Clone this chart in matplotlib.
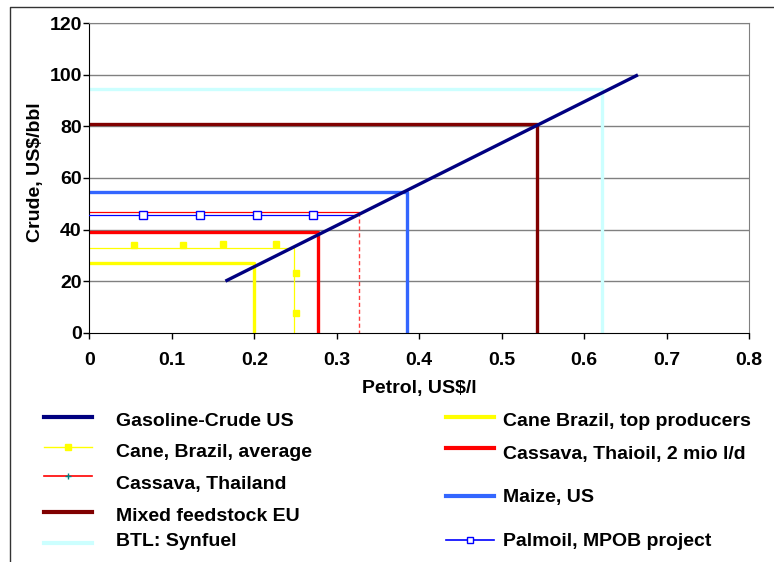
import matplotlib.pyplot as plt
from matplotlib.lines import Line2D

plt.rcParams["font.family"] = ["Liberation Sans", "DejaVu Sans"]
plt.rcParams["font.weight"] = "bold"

# gasoline-crude relation (petrol US$/l vs crude US$/bbl)
gas_x = [0.165, 0.665]
gas_y = [20, 100]

# break-even cost lines: petrol cost and crude equivalent
cane_top_x, cane_top_y = 0.2, 27
cane_avg_x, cane_avg_y = 0.248, 33
cane_avg_mk_x = [0.054, 0.113, 0.162, 0.226]
cane_avg_mk_y = [34, 34, 34.5, 34.5]
cane_avg_vmk_y = [23, 7.5]
cassava_th_x, cassava_th_y = 0.327, 47
cassava_thai_x, cassava_thai_y = 0.2776, 39.2
maize_x, maize_y = 0.3855, 54.7
mixed_x, mixed_y = 0.543, 80.8
btl_x, btl_y = 0.621, 94.4
palm_x, palm_y = 0.322, 45.5
palm_mk_x = [0.0655, 0.134, 0.203, 0.2715]

x_ticks = [0, 0.1, 0.2, 0.3, 0.4, 0.5, 0.6, 0.7, 0.8]
x_labels = ["0", "0.1", "0.2", "0.3", "0.4", "0.5", "0.6", "0.7", "0.8"]
y_ticks = [0, 20, 40, 60, 80, 100, 120]

W, H = 774, 562
fig = plt.figure(figsize=(W / 100, H / 100), dpi=100)
ax = fig.add_axes([89.3 / W, 1 - 332.7 / H, 660 / W, 309.4 / H])

ax.set_xlim(0, 0.8)
ax.set_ylim(0, 120)
for yv in y_ticks[1:]:
    ax.axhline(yv, color="#808080", lw=1, zorder=0)

thick = 2.4
# BTL
ax.plot([0, btl_x, btl_x], [btl_y, btl_y, 0], color="#CCFFFF", lw=thick, zorder=2)
# mixed feedstock
ax.plot([0, mixed_x, mixed_x], [mixed_y, mixed_y, 0], color="#800000", lw=thick, zorder=2)
# maize
ax.plot([0, maize_x, maize_x], [maize_y, maize_y, 0], color="#3366FF", lw=thick, zorder=2)
# cassava Thailand (thin + dashed drop)
ax.plot([0, cassava_th_x], [cassava_th_y, cassava_th_y], color="#FF0000", lw=0.9, zorder=2)
ax.plot([cassava_th_x, cassava_th_x], [cassava_th_y, 0], color="#FF4040", lw=1,
        ls=(0, (3, 2)), zorder=2)
# palmoil
ax.plot([0, palm_x], [palm_y, palm_y], color="#0000FF", lw=0.9, zorder=3)
ax.plot(palm_mk_x, [palm_y] * len(palm_mk_x), ls="none", marker="s", ms=5.5,
        mfc="white", mec="#0000FF", mew=1, zorder=4)
# cassava Thaioil
ax.plot([0, cassava_thai_x, cassava_thai_x], [cassava_thai_y, cassava_thai_y, 0],
        color="#FF0000", lw=thick, zorder=2)
# cane average
ax.plot([0, cane_avg_x, cane_avg_x], [cane_avg_y, cane_avg_y, 0], color="#FFFF00", lw=0.9, zorder=2)
ax.plot(cane_avg_mk_x, cane_avg_mk_y, ls="none", marker="s", ms=4, color="#FFFF00", zorder=3)
ax.plot([cane_avg_x + 0.002] * 2, cane_avg_vmk_y, ls="none", marker="s", ms=4,
        color="#FFFF00", zorder=3)
# cane top producers
ax.plot([0, cane_top_x, cane_top_x], [cane_top_y, cane_top_y, 0], color="#FFFF00", lw=thick, zorder=2)
# gasoline-crude
ax.plot(gas_x, gas_y, color="#000080", lw=2.4, zorder=5, solid_capstyle="butt")

ax.set_xticks(x_ticks)
ax.set_xticklabels(x_labels)
ax.set_yticks(y_ticks)
ax.tick_params(labelsize=14, length=4, width=1, direction="out")
ax.tick_params(axis="x", pad=10)
ax.tick_params(axis="y", pad=1.5)
for s in ["top", "right"]:
    ax.spines[s].set_color("#808080")
for s in ["left", "bottom"]:
    ax.spines[s].set_color("black")
ax.set_xlabel("Petrol, US$/l", fontsize=14, fontweight="bold", labelpad=8)
ax.set_ylabel("Crude, US$/bbl", fontsize=14, fontweight="bold")
ax.yaxis.set_label_coords(-0.068, 0.519)

# outer chart frame (partially visible)
fig.add_artist(Line2D([10 / W, 10 / W, 1], [0, 1 - 7 / H, 1 - 7 / H],
                      color="#333333", lw=1, transform=fig.transFigure))

# legend drawn by hand to follow the irregular layout
legend_items = [
    ("Gasoline-Crude US", dict(color="#000080", lw=3), 44, 116, 416.7, 421),
    ("Cane, Brazil, average", dict(color="#FFFF00", lw=1, marker="s", ms=4), 44, 116, 446.7, 452.3),
    ("Cassava, Thailand", dict(color="#FF0000", lw=1.2, marker="+", ms=5, mec="#008080"), 44, 116, 475.7, 485),
    ("Mixed feedstock EU", dict(color="#800000", lw=3), 44, 116, 512.3, 516.7),
    ("BTL: Synfuel", dict(color="#CCFFFF", lw=3), 44, 116, 543.3, 541.7),
    ("Cane Brazil, top producers", dict(color="#FFFF00", lw=3), 446, 503, 416.7, 421.7),
    ("Cassava, Thaioil, 2 mio l/d", dict(color="#FF0000", lw=3), 446, 503, 448.3, 454),
    ("Maize, US", dict(color="#3366FF", lw=3), 446, 503, 496, 497.7),
    ("Palmoil, MPOB project", dict(color="#0000FF", lw=1.2, marker="s", ms=5, mfc="white",
                                   mec="#0000FF"), 446, 503, 540, 541.7),
]
for name, style, hx, tx, hy, ty in legend_items:
    xs = [hx / W, (hx + 24) / W, (hx + 48) / W]
    ys = [1 - hy / H] * 3
    line = Line2D(xs, ys, transform=fig.transFigure, markevery=[1], **style)
    fig.add_artist(line)
    fig.text(tx / W, 1 - ty / H, name, fontsize=14, fontweight="bold",
             va="center", ha="left")

fig.savefig("out.png", dpi=100)
